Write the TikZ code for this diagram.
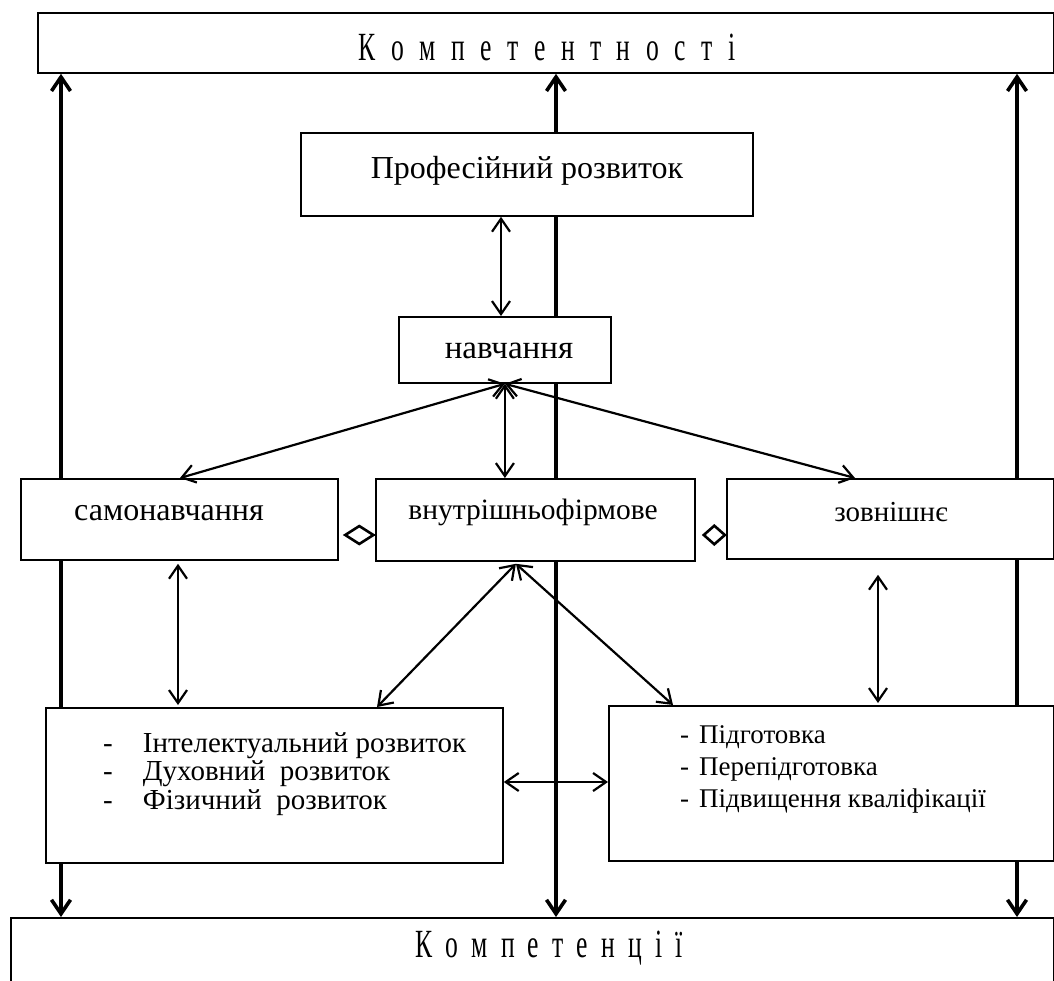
\documentclass[tikz,border=0pt]{standalone}
\usepackage{fontspec}
\setmainfont{Liberation Serif}
\newfontfamily\capsfont[FakeStretch=0.64]{Liberation Serif}
\usetikzlibrary{arrows.meta,calc,backgrounds}

\begin{document}
\begin{tikzpicture}[x=1pt,y=-1pt,
  box/.style={draw, line width=1.8pt, fill=white, inner sep=0pt, anchor=north west},
  lbl/.style={inner sep=0pt, font=\fontsize{32}{34}\selectfont},
  capslbl/.style={inner sep=0pt, font={\capsfont\fontsize{40}{42}\selectfont\spaceskip=15.5pt\relax}},
  listlbl/.style={inner sep=0pt, anchor=west, align=left},
  barb/.tip={Straight Barb[length=13pt,width=18pt]},
  bigbarb/.tip={Straight Barb[length=14pt,width=19pt]},
  link/.style={line width=2.2pt, barb-barb},
  mainlink/.style={line width=3.6pt, bigbarb-bigbarb},
  dlink/.style={line width=2.6pt, {Diamond[open,length=33pt,width=21pt]}-},
  dlinkshort/.style={line width=2.6pt, {Diamond[open,length=25pt,width=22pt]}-}]

\useasboundingbox (0,0) rectangle (1054,981);
\clip (0,0) rectangle (1054,981);

% reference abscissas and ordinates
\coordinate (xl) at (61,0);
\coordinate (xm) at (556,0);
\coordinate (xr) at (1017,0);
\coordinate (xa) at (501,0);
\coordinate (xs) at (180,0);
\coordinate (xs2) at (178,0);
\coordinate (xz) at (855,0);
\coordinate (xi) at (377,0);
\coordinate (xp) at (673,0);
\coordinate (xq) at (878,0);
\coordinate (yd) at (0,535);
\coordinate (yh) at (0,782);

% boxes
\node[box, minimum width=1016pt, minimum height=60pt] (komp) at (37,12) {};
\node[capslbl] (kompT) at (547,47) {К о м п е т е н т н о с т і};

\node[box, minimum width=452pt, minimum height=83pt] (prof) at (300,132) {};
\node[lbl] (profT) at (527,171) {Професійний розвиток};

\node[box, minimum width=212pt, minimum height=66pt] (navch) at (398,316) {};
\node[lbl, font=\fontsize{33}{35}\selectfont] (navchT) at (509,351) {навчання};

\node[box, minimum width=317pt, minimum height=81pt] (samo) at (20,478) {};
\node[lbl] (samoT) at (169,513) {самонавчання};

\node[box, minimum width=319pt, minimum height=82pt] (vnutr) at (375,478) {};
\node[lbl, font=\fontsize{29.5}{31}\selectfont] (vnutrT) at (533,512) {внутрішньофірмове};

\node[box, minimum width=327pt, minimum height=80pt] (zovn) at (726,478) {};
\node[lbl, font=\fontsize{29}{31}\selectfont] (zovnT) at (891,512) {зовнішнє};

\node[box, minimum width=457pt, minimum height=155pt] (intel) at (45,707) {};
\node[listlbl, font=\fontsize{29}{28.5}\selectfont] (intelT) at (103,774)
  {-\hspace{30pt}Інтелектуальний розвиток\\
   -\hspace{30pt}Духовний\ \ розвиток\\
   -\hspace{30pt}Фізичний\ \ розвиток};

\node[box, minimum width=445pt, minimum height=155pt] (pidg) at (608,705) {};
\node[listlbl, font=\fontsize{27}{32}\selectfont] (pidgT) at (680,769)
  {-\hspace{10pt}Підготовка\\
   -\hspace{10pt}Перепідготовка\\
   -\hspace{10pt}Підвищення кваліфікації};

\node[box, minimum width=1043pt, minimum height=90pt] (bot) at (10,917) {};
\node[capslbl, font={\capsfont\fontsize{40}{42}\selectfont\spaceskip=13.2pt\relax}] (botT) at (549,948) {К о м п е т е н ц і ї};

% main vertical links, running behind the boxes
\begin{scope}[on background layer]
  \draw[mainlink] (komp.south -| xl) -- (bot.north -| xl);
  \draw[mainlink] (komp.south -| xm) -- (bot.north -| xm);
  \draw[mainlink] (komp.south -| xr) -- (bot.north -| xr);
\end{scope}

% links between the boxes
\draw[link] (prof.south -| xa) -- (navch.north -| xa);
\draw[link] (navch.south) -- (samo.north -| xs);
\draw[link] (navch.south) -- (vnutr.north -| navch.south);
\draw[link] (navch.south) -- (zovn.north -| xz);

\draw[dlink] ($(samo.east |- yd)+(4,0)$) -- (vnutr.west |- yd);
\draw[dlinkshort] ($(vnutr.east |- yd)+(6,0)$) -- (zovn.west |- yd);

\draw[link] ($(samo.south -| xs2)+(0,3)$) -- ($(intel.north -| xs2)+(0,-2)$);
\draw[link] ($(vnutr.south)+(-19.5,2)$) -- (intel.north -| xi);
\draw[link] ($(vnutr.south)+(-19.5,2)$) -- (pidg.north -| xp);
\draw[link] ($(zovn.south -| xq)+(0,15)$) -- ($(pidg.north -| xq)+(0,-2)$);
\draw[link] (intel.east |- yh) -- (pidg.west |- yh);

\end{tikzpicture}
\end{document}
